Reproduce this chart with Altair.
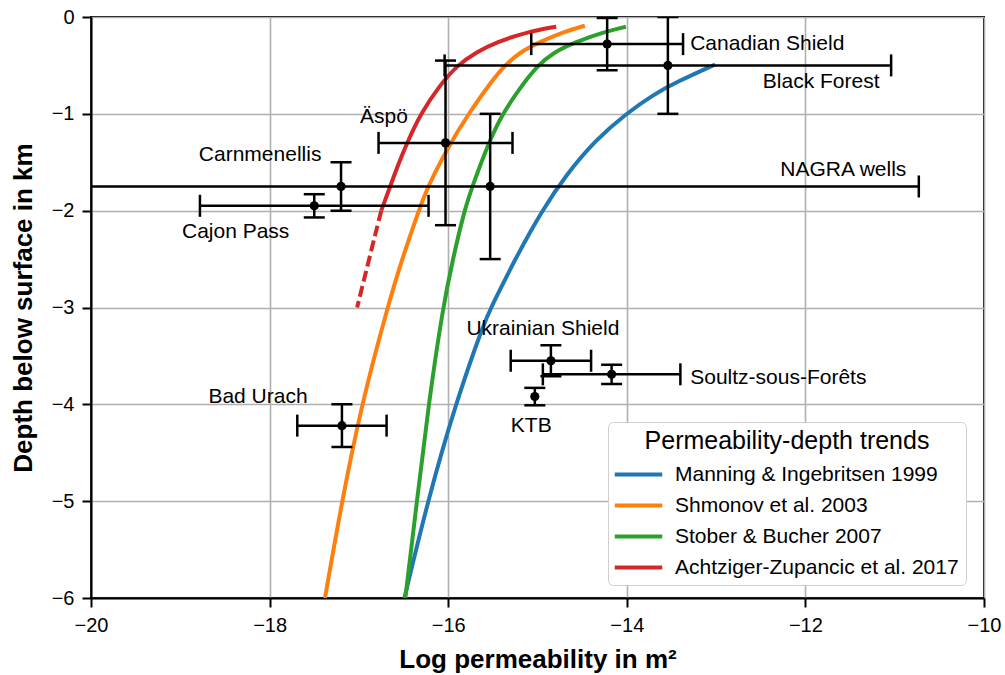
import altair as alt
import pandas as pd

FONT = "Liberation Sans"

# ---------------- data ----------------
site_names = ["Canadian Shield", "Black Forest", "Äspö", "Carnmenellis", "NAGRA wells",
              "Cajon Pass", "Ukrainian Shield", "Soultz-sous-Forêts", "KTB", "Bad Urach"]
site_x = [-14.22, -13.54, -16.03, -17.20, -15.53, -17.50, -14.85, -14.17, -15.03, -17.19]
site_y = [-0.28, -0.50, -1.30, -1.75, -1.75, -1.95, -3.55, -3.69, -3.92, -4.22]
site_xerr = [0.85, 2.50, 0.75, 0.0, 4.80, 1.28, 0.45, 0.77, 0.0, 0.50]
site_yerr = [0.27, 0.50, 0.85, 0.25, 0.75, 0.12, 0.16, 0.10, 0.09, 0.22]

# annotation anchors (data units) and their alignment
label_x = [-13.29, -11.17, -16.72, -17.42, -10.87, -18.38, -14.94, -13.29, -15.07, -18.13]
label_y = [-0.277, -0.67, -1.035, -1.427, -1.575, -2.225, -3.226, -3.725, -4.224, -3.928]
label_align = ["left", "right", "center", "right", "right",
               "center", "center", "left", "center", "center"]

trend_names = ["Manning & Ingebritsen 1999", "Shmonov et al. 2003",
               "Stober & Bucher 2007", "Achtziger-Zupancic et al. 2017"]
trend_colors = ["#1f77b4", "#ff7f0e", "#2ca02c", "#d62728"]

manning_x = [-13.01, -13.44, -13.70, -14.01, -14.35, -14.68, -14.95, -15.24, -15.52, -15.60,
             -15.92, -16.23, -16.49]
manning_y = [-0.49, -0.67, -0.80, -1.00, -1.27, -1.63, -2.00, -2.48, -3.00, -3.16,
             -4.00, -5.00, -6.00]

shmonov_x = [-14.47, -14.71, -14.98, -15.19, -15.37, -15.56, -15.77, -15.97, -16.23,
             -16.33, -16.52, -16.68, -16.97, -17.19, -17.38]
shmonov_y = [-0.09, -0.155, -0.26, -0.36, -0.50, -0.72, -1.00, -1.29, -1.75,
             -2.00, -2.51, -3.00, -4.00, -5.00, -6.00]

stober_x = [-14.01, -14.26, -14.58, -14.81, -15.00, -15.21, -15.39, -15.54, -15.73,
            -15.82, -15.95, -16.06, -16.22, -16.35, -16.48]
stober_y = [-0.10, -0.155, -0.26, -0.36, -0.50, -0.75, -1.00, -1.28, -1.75,
            -2.00, -2.51, -3.00, -4.00, -5.00, -6.00]

achtz_x = [-14.79, -15.12, -15.46, -15.68, -15.90, -16.09, -16.31, -16.46, -16.55, -16.65, -16.75]
achtz_y = [-0.10, -0.155, -0.26, -0.36, -0.50, -0.70, -1.00, -1.30, -1.50, -1.75, -2.00]
achtz_dash_x = [-16.75, -16.88, -17.02]
achtz_dash_y = [-2.00, -2.48, -3.00]

# ---------------- tables ----------------
curves = pd.concat([
    pd.DataFrame({"x": manning_x, "y": manning_y, "trend": trend_names[0]}),
    pd.DataFrame({"x": shmonov_x, "y": shmonov_y, "trend": trend_names[1]}),
    pd.DataFrame({"x": stober_x, "y": stober_y, "trend": trend_names[2]}),
    pd.DataFrame({"x": achtz_x, "y": achtz_y, "trend": trend_names[3]}),
], ignore_index=True)
dashed = pd.DataFrame({"x": achtz_dash_x, "y": achtz_dash_y})

sites = pd.DataFrame({"name": site_names, "x": site_x, "y": site_y,
                      "xerr": site_xerr, "yerr": site_yerr})
sites["xlo"] = sites["x"] - sites["xerr"]
sites["xhi"] = sites["x"] + sites["xerr"]
sites["ylo"] = sites["y"] - sites["yerr"]
sites["yhi"] = sites["y"] + sites["yerr"]
xbars = sites[sites["xerr"] > 0]
xcaps = pd.concat([xbars[["xlo", "y"]].rename(columns={"xlo": "cx"}),
                   xbars[["xhi", "y"]].rename(columns={"xhi": "cx"})], ignore_index=True)
ycaps = pd.concat([sites[["x", "ylo"]].rename(columns={"ylo": "cy"}),
                   sites[["x", "yhi"]].rename(columns={"yhi": "cy"})], ignore_index=True)

labels = pd.DataFrame({"text": site_names, "x": label_x, "y": label_y, "anchor": label_align})

# ---------------- scales / axes ----------------
xs = alt.Scale(domain=[-20, -10], nice=False, zero=False)
ys = alt.Scale(domain=[-6, 0], nice=False, zero=False)

x_axis = alt.Axis(values=[-20, -18, -16, -14, -12, -10], title="Log permeability in m²",
                  titleY=69, titleBaseline="alphabetic", labelFlush=False)
y_axis = alt.Axis(values=[0, -1, -2, -3, -4, -5, -6], title="Depth below surface in km",
                  titleX=-60, titleBaseline="alphabetic", labelFlush=False)


def X(field):
    return alt.X(field, type="quantitative", scale=xs, axis=x_axis)


def Y(field):
    return alt.Y(field, type="quantitative", scale=ys, axis=y_axis)


legend = alt.Legend(
    title="Permeability-depth trends", orient="none", legendX=517, legendY=405,
    titleFontSize=25, titleFontWeight="normal", titleAnchor="middle", titleFont=FONT,
    titleColor="black", titlePadding=9, titleLimit=0,
    labelFontSize=21, labelFont=FONT, labelColor="black", labelLimit=0, labelOffset=25,
    symbolType="M-2.5,0L2.5,0", symbolSize=361, symbolStrokeWidth=4, symbolOffset=12,
    fillColor="white", strokeColor="#d0d0d0", cornerRadius=5, padding=7, rowPadding=9,
)

lines = alt.Chart(curves).mark_line(strokeWidth=4, interpolate="basis", clip=True).encode(
    x=X("x"),
    y=Y("y"),
    color=alt.Color("trend:N", scale=alt.Scale(domain=trend_names, range=trend_colors),
                    sort=trend_names, legend=legend),
    order=alt.Order("y:Q", sort="descending"),
    detail="trend:N",
)

dash_line = alt.Chart(dashed).mark_line(strokeWidth=4, color=trend_colors[3],
                                        strokeDash=[11, 4.5], interpolate="basis",
                                        clip=True).encode(
    x=X("x"), y=Y("y"), order=alt.Order("y:Q", sort="descending"),
)

hbar = alt.Chart(xbars).mark_rule(color="black", strokeWidth=2.5, clip=True).encode(
    x=X("xlo"), x2="xhi:Q", y=Y("y"),
)
vbar = alt.Chart(sites).mark_rule(color="black", strokeWidth=2.5, clip=True).encode(
    x=X("x"), y=Y("ylo"), y2="yhi:Q",
)
xcap = alt.Chart(xcaps).mark_tick(color="black", orient="vertical", size=22, thickness=2.5,
                                  opacity=1, clip=True).encode(
    x=X("cx"), y=Y("y"),
)
ycap = alt.Chart(ycaps).mark_tick(color="black", orient="horizontal", size=21, thickness=2.5,
                                  opacity=1, clip=True).encode(
    x=X("x"), y=Y("cy"),
)
pts = alt.Chart(sites).mark_circle(color="black", size=85, opacity=1).encode(
    x=X("x"), y=Y("y"),
)

text_layers = []
for al in ["left", "right", "center"]:
    sub = labels[labels["anchor"] == al]
    text_layers.append(
        alt.Chart(sub).mark_text(align=al, baseline="middle", font=FONT, fontSize=21,
                                 color="black").encode(
            x=X("x"), y=Y("y"), text="text:N",
        )
    )

chart = alt.layer(lines, dash_line, hbar, vbar, xcap, ycap, pts, *text_layers).properties(
    width=893, height=581,
    autosize=alt.AutoSizeParams(type="none"),
    padding={"left": 91, "top": 17, "right": 21, "bottom": 77},
    background="white",
).configure_view(
    stroke="black", strokeWidth=2,
).configure_axis(
    domainColor="black", domainWidth=2, tickColor="black", tickWidth=2, tickSize=9,
    labelPadding=8, labelFont=FONT, labelFontSize=20, labelColor="black",
    gridColor="#b0b0b0", gridWidth=1.6, grid=True,
    titleFont=FONT, titleFontSize=26, titleFontWeight="bold", titleColor="black",
)

chart.save("out.html", embed_options={"renderer": "svg", "actions": False})
